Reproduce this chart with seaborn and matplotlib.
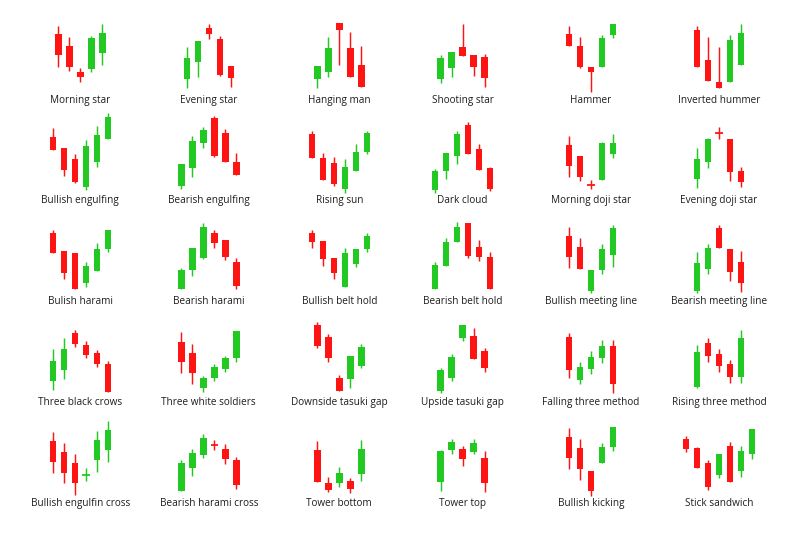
import matplotlib
matplotlib.use("Agg")
import matplotlib.pyplot as plt
import seaborn as sns
import pandas as pd

# ---------------- data (prices) ----------------
names = [
    "Morning star", "Evening star", "Hanging man", "Shooting star", "Hammer", "Inverted hummer",
    "Bullish engulfing", "Bearish engulfing", "Rising sun", "Dark cloud", "Morning doji star", "Evening doji star",
    "Bulish harami", "Bearish harami", "Bullish belt hold", "Bearish belt hold", "Bullish meeting line", "Bearish meeting line",
    "Three black crows", "Three white soldiers", "Downside tasuki gap", "Upside tasuki gap", "Falling three method", "Rising three method",
    "Bullish engulfin cross", "Bearish harami cross", "Tower bottom", "Tower top", "Bullish kicking", "Stick sandwich",
]

# open / high / low / close for each pattern
opens = [
    [65.7, 54.3, 27.7, 31, 46.7], [21, 37.7, 72.3, 61, 34], [21, 27.7, 76.7, 52.3, 35],
    [21, 32.3, 52.7, 45, 42.7], [65.7, 54.3, 33.3, 33.3, 65], [70, 40, 17.7, 18.3, 35],
    [63.3, 51.7, 40.7, 13.3, 37.7, 61], [14, 32.3, 56.7, 81.7, 66.7, 38.3], [66, 41.7, 37.3, 10.7, 29, 47.7],
    [10, 29, 44, 75, 50.7, 31.7], [55, 44.3, 15.3, 20, 45.7], [21, 37.7, 67.3, 61, 29.3],
    [67.7, 50, 47.7, 18.3, 30, 52], [12, 31, 43.3, 67.7, 61, 39.3], [67.7, 60, 43.3, 13.7, 36.7, 51.7],
    [12, 35.3, 58.7, 77.7, 54.3, 44.3], [65.3, 54.3, 10, 31, 46], [10, 32, 73.3, 52, 38.7],
    [21, 32, 68.7, 57, 48.7, 38], [60.3, 49.3, 13.7, 24.3, 33, 43.7], [77, 64.7, 23.7, 22.7, 36],
    [11, 23.7, 64.3, 66, 51], [65.3, 22, 33, 43.7, 56], [15.3, 58.7, 48, 37.7, 24.7],
    [62, 50.7, 39.7, 28, 43, 53], [12, 34.7, 48, 58, 54, 43], [53, 20.3, 20.3, 22, 28.7],
    [21.3, 53, 53.7, 51.3, 45.3], [65.7, 54.7, 32, 39.7, 56.3], [64, 55.3, 40.3, 28, 57, 32, 48.7],
]
highs = [
    [74.3, 63.3, 31.7, 64.3, 75.7], [52.7, 59, 75.7, 64.3, 34], [34.3, 63.3, 76.7, 68.3, 54],
    [45, 48.3, 75.7, 45, 45.7], [74.3, 63.3, 33.3, 65, 75.7], [74.3, 63.3, 52.7, 65, 75.7],
    [72.3, 51.7, 46, 60, 74, 86.7], [36, 64, 72.7, 84, 71, 47.3], [69.3, 46.7, 42.7, 40.7, 56, 69],
    [30.7, 47.3, 69.3, 77.7, 56, 33.3], [64.3, 44.3, 20, 58.3, 65.7], [52.3, 62.3, 72.7, 61, 32.7],
    [71, 50, 47.7, 39.3, 57.7, 71], [33.3, 52.7, 77.7, 71, 61, 42.7], [71, 60, 43.3, 53.3, 52, 68.3],
    [39.3, 62.7, 78.7, 77.7, 61, 48.7], [74.3, 63.3, 31, 56.7, 76], [48.7, 56.7, 76, 52, 50],
    [52.7, 63.7, 72, 61, 52, 41.3], [69.7, 58, 26, 37.7, 46.3, 71.3], [80.3, 68, 27, 46, 58],
    [34.3, 48, 77, 74.3, 53.7], [68.7, 40.3, 51, 62, 62], [57, 63.7, 53, 42, 72],
    [70.7, 59.7, 48.7, 35.3, 72, 82], [43, 54, 69, 63, 59, 46.3], [62, 25.7, 36.3, 24.7, 63],
    [53, 64, 57.3, 64, 52], [74.7, 64, 32, 59.7, 76.3], [67.3, 56.3, 43, 48.7, 61.3, 57, 74],
]
lows = [
    [33.3, 29.3, 18.3, 28.3, 35], [11.7, 23.3, 61, 24.3, 13.3], [11.7, 23.3, 35, 23.3, 13.3],
    [16.7, 22.7, 44.3, 24, 13.3], [54.3, 31.7, 7.7, 33.3, 62.3], [33.3, 19.3, 12.3, 18.3, 35],
    [50, 24.3, 16.7, 10, 33.3, 61], [10.7, 23.3, 51.7, 42.7, 38.3, 25], [41.7, 20, 14, 7.3, 29, 46],
    [7.3, 20.7, 36, 45.7, 30, 9], [23.3, 19.3, 10.7, 20, 41.7], [11.7, 31.7, 60.7, 19.3, 13.3],
    [47.7, 22, 12, 14.3, 30, 49.3], [12, 25, 42, 52.7, 41, 12], [53.3, 35, 21.7, 13.7, 34.3, 49.3],
    [12, 35.3, 58.7, 42.7, 40, 12], [33.3, 31.7, 7.7, 26.7, 34.3], [7.7, 26.7, 52.7, 20, 9.3],
    [12, 23, 54.7, 43.7, 34.7, 10.3], [28.7, 17.7, 10.3, 21, 29.7, 39.7], [53.7, 40.3, 11, 14.3, 34.3],
    [8.7, 21, 61.3, 42.7, 30.3], [24.3, 18, 28, 39.3, 9.3], [13.7, 40.3, 30.3, 19.3, 19.3],
    [30.3, 19.7, 8, 22, 31.3, 41.3], [12, 27, 45.3, 53, 38.7, 14], [21.3, 10.7, 16.3, 9.7, 22.3],
    [12, 48.7, 37.3, 49, 10.7], [34, 23, 7.3, 39.7, 52], [50.7, 34.7, 13, 24.7, 20.7, 26.3, 43.7],
]
closes = [
    [45, 32.7, 22.7, 62.3, 66.7], [41.7, 59, 66, 25, 22.3], [34.3, 52.3, 70, 23.3, 13.3],
    [41.7, 48.3, 44.3, 33.3, 22.3], [54.3, 33.3, 28.3, 62.3, 75.7], [33.3, 19.3, 12.3, 60, 66.7],
    [50, 30, 18.3, 54, 65, 83.3], [36, 59, 70, 44.3, 38.3, 25], [41.7, 20, 16, 32.7, 48.3, 66.7],
    [29, 47.3, 66, 45.7, 30, 10.7], [34.3, 22.7, 15.3, 56.7, 56.7], [41, 60.7, 67.3, 28.3, 18.3],
    [47.7, 27.7, 12, 35.3, 52, 71], [31, 52.7, 74.3, 57.7, 44.3, 15], [59.3, 41.7, 28.3, 47.7, 52, 65],
    [36, 59.3, 74.3, 45, 44.3, 12], [44.3, 31.7, 31, 52, 72.7], [37.7, 52.7, 52.7, 29.3, 18.3],
    [41.3, 52.7, 58, 47, 38, 10.3], [40.3, 29.3, 23.7, 34.7, 43.7, 71.3], [56.3, 43.7, 11, 46, 54.7],
    [32, 44.7, 77, 42.7, 33.7], [32, 34.7, 45.3, 56, 17.7], [49.7, 46.3, 36, 25.3, 64.3],
    [41.3, 30.3, 19.7, 28, 63, 73], [39.7, 50.3, 65.3, 58, 43.7, 18], [21.3, 13, 30.3, 14, 54],
    [52, 61.3, 43.7, 60.3, 19.7], [45.3, 34, 12.3, 56.3, 76.3], [53.7, 34.7, 16.3, 48.7, 20.7, 52, 74],
]
# colour of the doji crosses (open == close)
doji_colors = {
    "Morning doji star": "red", "Evening doji star": "red",
    "Bullish engulfin cross": "green", "Bearish harami cross": "red",
}

# ---------------- style / layout ----------------
sns.set_theme(style="white")
plt.rcParams["font.family"] = ["Open Sans", "DejaVu Sans"]

RED = "#ff1414"
GREEN = "#22c922"
TEXT = "#1e1e1e"

W, H = 800, 533
col_centers = [80.3, 208.8, 339.3, 462.6, 591.1, 719.0]
row_labels_y = [100, 200, 301, 402, 503]
STEP = 11.0          # px between candles
BODY_W = 6.5 / STEP  # body width in candle units
PANEL_W = 124.0
Y_LO, Y_HI = -15, 92

fig = plt.figure(figsize=(W / 100, H / 100), dpi=100)
fig.patch.set_facecolor("white")

for k, name in enumerate(names):
    r, c = divmod(k, 6)
    cx, ly = col_centers[c], row_labels_y[r]
    df = pd.DataFrame({"open": opens[k], "high": highs[k], "low": lows[k], "close": closes[k]})
    df["idx"] = range(len(df))
    n = len(df)
    mid = (n - 1) / 2

    left = (cx - PANEL_W / 2) / W
    bottom = (H - (ly - Y_LO)) / H
    ax = fig.add_axes([left, bottom, PANEL_W / W, (Y_HI - Y_LO) / H])
    ax.set_xlim(mid - PANEL_W / (2 * STEP), mid + PANEL_W / (2 * STEP))
    ax.set_ylim(Y_LO, Y_HI)
    ax.set_axis_off()
    ax.patch.set_alpha(0)

    for _, row in df.iterrows():
        i = row["idx"]
        if row["close"] > row["open"]:
            col = GREEN
        elif row["close"] < row["open"]:
            col = RED
        else:
            col = GREEN if doji_colors.get(name) == "green" else RED
        ax.vlines(i, row["low"], row["high"], color=col, lw=1.05, zorder=2)
        if row["close"] == row["open"]:
            ax.hlines(row["open"], i - BODY_W / 2 - 0.05, i + BODY_W / 2 + 0.05,
                      color=col, lw=1.3, zorder=3)
        else:
            lo = min(row["open"], row["close"])
            ax.bar(i, abs(row["close"] - row["open"]), bottom=lo, width=BODY_W,
                   color=col, edgecolor="none", zorder=3)

    ax.text(mid, -3.3, name, ha="center", va="baseline", fontsize=7.2, color=TEXT)

fig.savefig("out.png", dpi=100, facecolor="white")
